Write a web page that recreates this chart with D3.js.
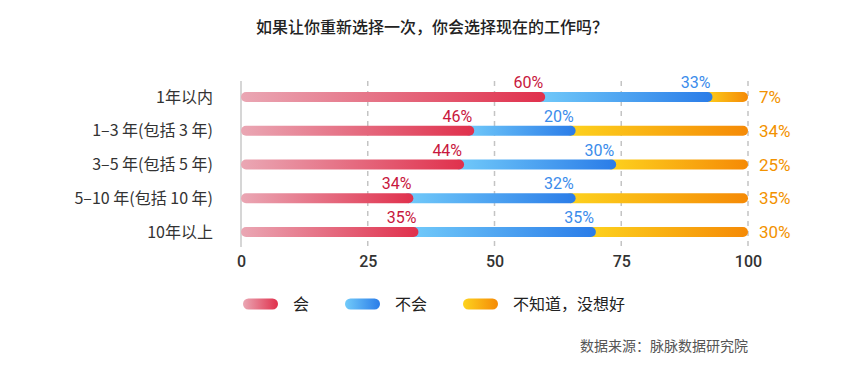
<!DOCTYPE html>
<html><head><meta charset="utf-8">
<script src="https://cdn.jsdelivr.net/npm/d3@7"></script>
<style>
html,body{margin:0;padding:0;background:#fff;}
svg{display:block;font-family:"Noto Sans CJK SC","Noto Sans",sans-serif;}
.num{font-family:Roboto,"Noto Sans",sans-serif;}
</style></head>
<body><svg id="c" width="865" height="374"></svg>
<script>
const title = "如果让你重新选择一次，你会选择现在的工作吗？";
const categories = ["1年以内","1–3 年(包括 3 年)","3–5 年(包括 5 年)","5–10 年(包括 10 年)","10年以上"];
const will = [60,46,44,34,35];
const wont = [33,20,30,32,35];
const unsure = [7,34,25,35,30];
const tickValues = [0,25,50,75,100];
const seriesNames = ["会","不会","不知道，没想好"];
const source = "数据来源：脉脉数据研究院";

const svg = d3.select("#c");
const x = d3.scaleLinear().domain([0,100]).range([241,748]);
const y = d3.scaleBand().domain(categories).range([80.1,248.9]).padding(0);
const bh = 10;

const defs = svg.append("defs");
const grads = [
  {id:"gRed", a:"#eaa7b4", b:"#e0304c"},
  {id:"gBlue", a:"#72cbfa", b:"#2a7ce8"},
  {id:"gOrange", a:"#fdd31e", b:"#f58a06"}
];
grads.forEach(g=>{
  const lg = defs.append("linearGradient").attr("id",g.id).attr("x1","0%").attr("x2","100%").attr("y1","0%").attr("y2","0%");
  lg.append("stop").attr("offset","0%").attr("stop-color",g.a);
  lg.append("stop").attr("offset","100%").attr("stop-color",g.b);
});
const labelColors = ["#c8173d","#3b8ceb","#f29200"];

// title
svg.append("text").attr("x",432).attr("y",33).attr("text-anchor","middle")
  .attr("font-size",16).attr("font-weight",500).attr("fill","#222").text(title);

// grid
const grid = svg.append("g");
tickValues.forEach(v=>{
  grid.append("line").attr("x1",x(v)).attr("x2",x(v)).attr("y1",81).attr("y2",247)
    .attr("stroke", v===0 ? "#c8c8c8" : "#c4c4c4")
    .attr("stroke-width",1.5)
    .attr("stroke-dasharray", v===0 ? null : "5,5");
});

// x axis
const xa = svg.append("g").attr("transform","translate(0,256)")
  .call(d3.axisBottom(x).tickValues(tickValues).tickSize(0).tickPadding(0));
xa.select(".domain").remove();
xa.selectAll("text").attr("class","num").attr("font-size",16).attr("font-weight",500)
  .attr("fill","#333").attr("dy","0.71em").attr("font-family","Roboto,sans-serif");

// category labels
svg.append("g").selectAll("text").data(categories).join("text")
  .attr("x",213).attr("y",d=>y(d)+y.bandwidth()/2).attr("dy","0.35em")
  .attr("text-anchor","end").attr("font-size",16).attr("fill","#333").text(d=>d);

// bars
const rows = categories.map((c,i)=>({c, w:will[i], n:wont[i], u:unsure[i]}));
const bars = svg.append("g");
rows.forEach(r=>{
  const cy = y(r.c)+y.bandwidth()/2;
  const s2 = r.w + r.n;
  bars.append("rect").attr("x",x(s2)-bh).attr("width",x(100)-x(s2)+bh)
    .attr("y",cy-bh/2).attr("height",bh).attr("rx",bh/2).attr("fill","url(#gOrange)");
  bars.append("rect").attr("x",x(r.w)-bh).attr("width",x(s2)-x(r.w)+bh)
    .attr("y",cy-bh/2).attr("height",bh).attr("rx",bh/2).attr("fill","url(#gBlue)");
  bars.append("rect").attr("x",x(0)).attr("width",x(r.w)-x(0))
    .attr("y",cy-bh/2).attr("height",bh).attr("rx",bh/2).attr("fill","url(#gRed)");
  bars.append("text").attr("class","num").attr("x",x(r.w)-2).attr("y",cy-9)
    .attr("text-anchor","end").attr("font-size",16).attr("font-weight",400)
    .attr("fill",labelColors[0]).text(r.w+"%");
  bars.append("text").attr("class","num").attr("x",x(s2)-2).attr("y",cy-9)
    .attr("text-anchor","end").attr("font-size",16).attr("font-weight",400)
    .attr("fill",labelColors[1]).text(r.n+"%");
  bars.append("text").attr("class","num").attr("x",x(100)+11).attr("y",cy).attr("dy","0.36em")
    .attr("text-anchor","start").attr("font-size",17).attr("font-weight",400)
    .attr("fill",labelColors[2]).text(r.u+"%");
});

// legend
const legX = [243,345,463];
const leg = svg.append("g");
seriesNames.forEach((n,i)=>{
  leg.append("rect").attr("x",legX[i]).attr("y",298.5).attr("width",35).attr("height",11)
    .attr("rx",5.5).attr("fill","url(#"+grads[i].id+")");
  leg.append("text").attr("x",legX[i]+50).attr("y",304).attr("dy","0.35em")
    .attr("font-size",16).attr("fill","#222").text(n);
});

// source
svg.append("text").attr("x",748).attr("y",346).attr("dy","0.35em").attr("text-anchor","end")
  .attr("font-size",14).attr("fill","#555").text(source);
</script>
</body></html>
